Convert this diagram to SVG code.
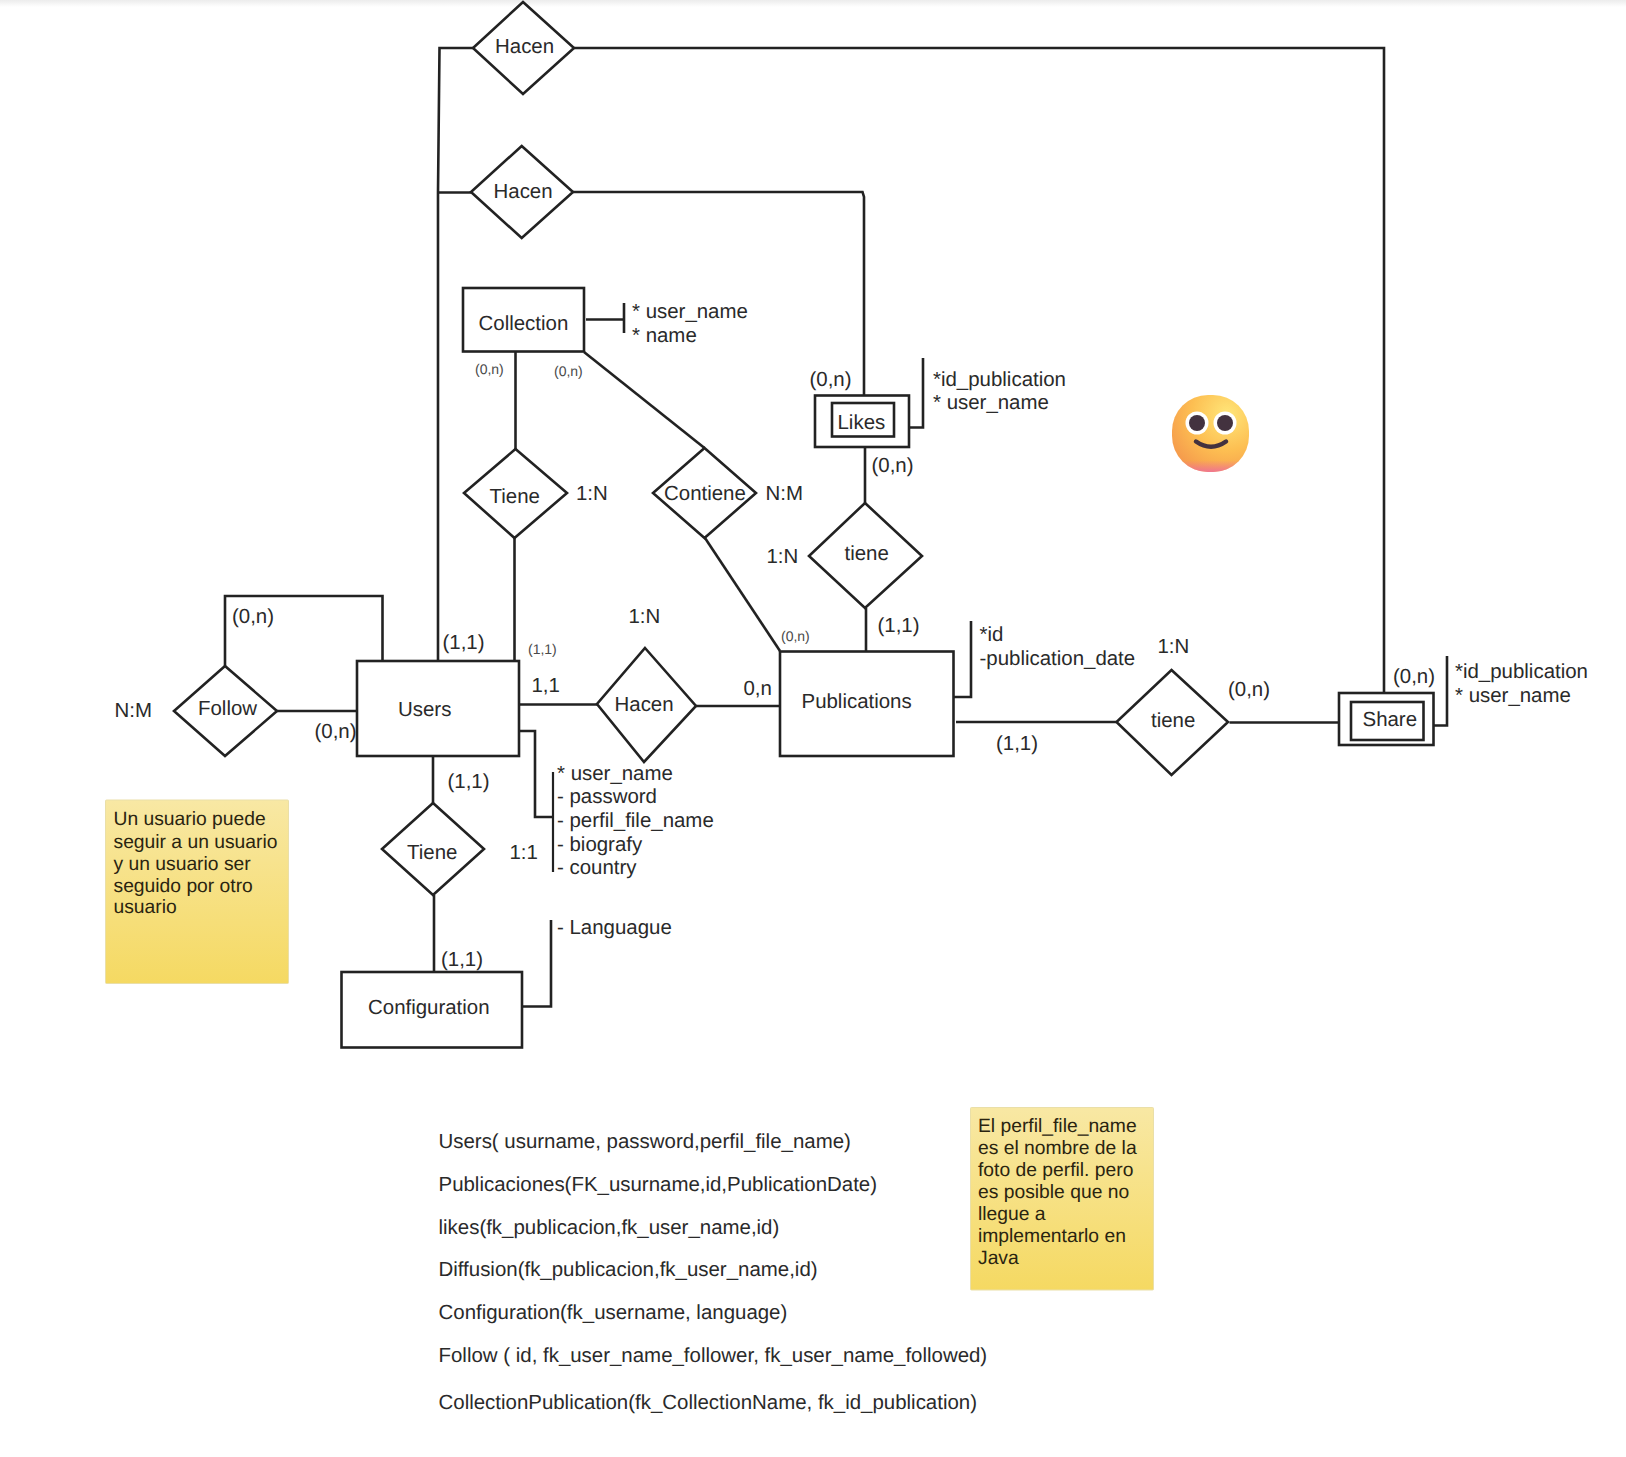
<svg xmlns="http://www.w3.org/2000/svg" width="1626" height="1457" viewBox="0 0 1626 1457">
<style>
text{font-family:"Liberation Sans",Arial,sans-serif;font-size:20.450px;fill:#2a2a2a;text-rendering:geometricPrecision}
.s{font-size:14px;fill:#4a4a4a}
.n{font-size:19.300px;fill:#2a2410}
.b{fill:#fff;stroke:#222;stroke-width:2.600}
.l{fill:none;stroke:#222;stroke-width:2.600}
.t{fill:none;stroke:#222;stroke-width:2.200}
</style>
<defs>
<linearGradient id="top" x1="0" y1="0" x2="0" y2="1"><stop offset="0" stop-color="#ececec"/><stop offset="1" stop-color="#fff"/></linearGradient>
<linearGradient id="note" x1="0" y1="0" x2="0" y2="1"><stop offset="0" stop-color="#f8e8a4"/><stop offset="1" stop-color="#f5d962"/></linearGradient>
<radialGradient id="face" cx="0.72" cy="0.25" r="0.85"><stop offset="0" stop-color="#ffe679"/><stop offset="0.55" stop-color="#fdbf52"/><stop offset="1" stop-color="#f59a4c"/></radialGradient>
<linearGradient id="blush" x1="0" y1="0" x2="0" y2="1"><stop offset="0.85" stop-color="#f0709a" stop-opacity="0"/><stop offset="1" stop-color="#ee6f9c" stop-opacity="0.85"/></linearGradient>
</defs>
<rect width="1626" height="1457" fill="#fff"/>
<rect width="1626" height="7" fill="url(#top)"/>

<g id="connectors">
<path class="l" d="M473 48H439.500L438 192V661"/>
<path class="l" d="M574 48H1384V693"/>
<path class="l" d="M471 192.500H438"/>
<path class="l" d="M573 192H862.500L864 197V395"/>
<path class="l" d="M586 319.500H623"/>
<path class="l" d="M624 303V333"/>
<path class="l" d="M515.500 351V449"/>
<path class="l" d="M514.500 538V661"/>
<path class="l" d="M584 352L704.500 448"/>
<path class="l" d="M705 538L780 651"/>
<path class="l" d="M225 667V596H382.500V661"/>
<path class="l" d="M277 711H357"/>
<path class="l" d="M519 704.500H597"/>
<path class="l" d="M696 706H780"/>
<path class="l" d="M518 731H535V817H553"/>
<path class="t" d="M553 772V872"/>
<path class="l" d="M433 756V803"/>
<path class="l" d="M434 895V973"/>
<path class="l" d="M523 1006.500H551V920"/>
<path class="l" d="M865 447V503"/>
<path class="l" d="M866 608V652"/>
<path class="l" d="M909 427.500H923V358"/>
<path class="l" d="M954 697H971V621"/>
<path class="l" d="M956 722H1116.500"/>
<path class="l" d="M1229.500 722.500H1339"/>
<path class="l" d="M1434 725.500H1447V656"/>
</g>

<g id="hacen-share"><polygon class="b" points="523,2 574,48 523,94 473,48"/><text x="495" y="52.500">Hacen</text></g>
<g id="hacen-likes"><polygon class="b" points="521.700,146 573,192 521.700,238 471,192"/><text x="493.500" y="197.500">Hacen</text></g>
<g id="collection"><rect class="b" x="463" y="288" width="121" height="63.500"/><text x="478.500" y="330">Collection</text></g>
<g id="collection-attrs"><text x="632" y="318">* user_name</text><text x="632" y="342">* name</text></g>
<g id="tiene-collection"><polygon class="b" points="515.500,449 567,493 514.500,538 464,493"/><text x="489.500" y="503">Tiene</text></g>
<g id="contiene"><polygon class="b" points="704.500,448 756,493 704.500,538 653,493"/><text x="664" y="500">Contiene</text></g>
<g id="users"><rect class="b" x="357" y="661" width="162" height="95"/><text x="398" y="716">Users</text></g>
<g id="users-attrs"><text x="557" y="780">* user_name</text><text x="557" y="803">- password</text><text x="557" y="827">- perfil_file_name</text><text x="557" y="851">- biografy</text><text x="557" y="874">- country</text></g>
<g id="follow"><polygon class="b" points="225,666 277,711 225,756 174,711"/><text x="198" y="715">Follow</text></g>
<g id="hacen-publications"><polygon class="b" points="645,648 696,706 644,762 597,704"/><text x="614.500" y="711">Hacen</text></g>
<g id="publications"><rect class="b" x="780" y="651.500" width="173.500" height="104.500"/><text x="801.500" y="708">Publications</text></g>
<g id="publications-attrs"><text x="979.500" y="641">*id</text><text x="979.500" y="665">-publication_date</text></g>
<g id="tiene-config"><polygon class="b" points="433,803 484,849 433,895 382,849"/><text x="407" y="859">Tiene</text></g>
<g id="configuration"><rect class="b" x="341.500" y="972" width="180.500" height="75.500"/><text x="368" y="1014">Configuration</text></g>
<g id="config-attrs"><text x="557" y="934">- Languague</text></g>
<g id="likes"><rect class="b" x="815" y="395.500" width="94" height="51.500"/><rect class="b" x="832" y="403" width="62" height="33.500"/><text x="837.500" y="429">Likes</text></g>
<g id="likes-attrs"><text x="933" y="386">*id_publication</text><text x="933" y="409">* user_name</text></g>
<g id="tiene-likes"><polygon class="b" points="865,503 922,556 865,608 809,556"/><text x="844.500" y="560">tiene</text></g>
<g id="tiene-share"><polygon class="b" points="1171.500,670 1228,722 1171.500,775 1116.500,722"/><text x="1151" y="727">tiene</text></g>
<g id="share"><rect class="b" x="1339" y="693" width="94.500" height="52"/><rect class="b" x="1351" y="702" width="72.500" height="38"/><text x="1362.500" y="726">Share</text></g>
<g id="share-attrs"><text x="1455" y="678">*id_publication</text><text x="1455" y="702">* user_name</text></g>

<g id="labels">
<text x="232" y="623">(0,n)</text>
<text x="442.500" y="649">(1,1)</text>
<text class="s" x="528" y="654">(1,1)</text>
<text x="628.500" y="623">1:N</text>
<text x="531.500" y="692">1,1</text>
<text x="743.500" y="695">0,n</text>
<text x="114.500" y="716.500">N:M</text>
<text x="314.500" y="738">(0,n)</text>
<text x="447.500" y="788">(1,1)</text>
<text x="509.500" y="859">1:1</text>
<text x="441" y="966">(1,1)</text>
<text class="s" x="475" y="374">(0,n)</text>
<text class="s" x="554" y="376">(0,n)</text>
<text x="576" y="500">1:N</text>
<text x="765.500" y="500">N:M</text>
<text x="766.500" y="563">1:N</text>
<text x="809.500" y="386">(0,n)</text>
<text x="871.500" y="472">(0,n)</text>
<text x="877.500" y="632">(1,1)</text>
<text class="s" x="781" y="641">(0,n)</text>
<text x="1157.500" y="653">1:N</text>
<text x="996" y="750">(1,1)</text>
<text x="1228" y="696">(0,n)</text>
<text x="1393" y="683">(0,n)</text>
</g>

<g id="emoji">
<rect x="1172" y="395" width="77" height="77" rx="36" fill="url(#face)"/>
<rect x="1172" y="395" width="77" height="77" rx="36" fill="url(#blush)"/>
<circle cx="1197" cy="423" r="11.500" fill="#fff"/><circle cx="1225" cy="423" r="11.500" fill="#fff"/>
<circle cx="1197" cy="423" r="8" fill="#43323f"/><circle cx="1225" cy="423" r="8" fill="#43323f"/>
<path d="M1196 441.500Q1211 452 1226 441.500" fill="none" stroke="#43323f" stroke-width="4.500" stroke-linecap="round"/>
</g>

<g id="note-follow"><rect x="105.500" y="800" width="183" height="183.500" rx="1" fill="url(#note)" stroke="#eadfa8" stroke-width="1"/>
<text class="n" x="113.500" y="825">Un usuario puede</text><text class="n" x="113.500" y="848">seguir a un usuario</text><text class="n" x="113.500" y="870">y un usuario ser</text><text class="n" x="113.500" y="892">seguido por otro</text><text class="n" x="113.500" y="913">usuario</text></g>

<g id="note-perfil"><rect x="970.500" y="1107.500" width="183" height="182.500" rx="1" fill="url(#note)" stroke="#eadfa8" stroke-width="1"/>
<text class="n" x="978" y="1132">El perfil_file_name</text><text class="n" x="978" y="1153.500">es el nombre de la</text><text class="n" x="978" y="1175.500">foto de perfil. pero</text><text class="n" x="978" y="1197.500">es posible que no</text><text class="n" x="978" y="1219.500">llegue a</text><text class="n" x="978" y="1241.500">implementarlo en</text><text class="n" x="978" y="1263.500">Java</text></g>

<g id="schema">
<text x="438.500" y="1148">Users( usurname, password,perfil_file_name)</text>
<text x="438.500" y="1191">Publicaciones(FK_usurname,id,PublicationDate)</text>
<text x="438.500" y="1234">likes(fk_publicacion,fk_user_name,id)</text>
<text x="438.500" y="1276">Diffusion(fk_publicacion,fk_user_name,id)</text>
<text x="438.500" y="1319">Configuration(fk_username, language)</text>
<text x="438.500" y="1362">Follow ( id, fk_user_name_follower, fk_user_name_followed)</text>
<text x="438.500" y="1409">CollectionPublication(fk_CollectionName, fk_id_publication)</text>
</g>
</svg>
